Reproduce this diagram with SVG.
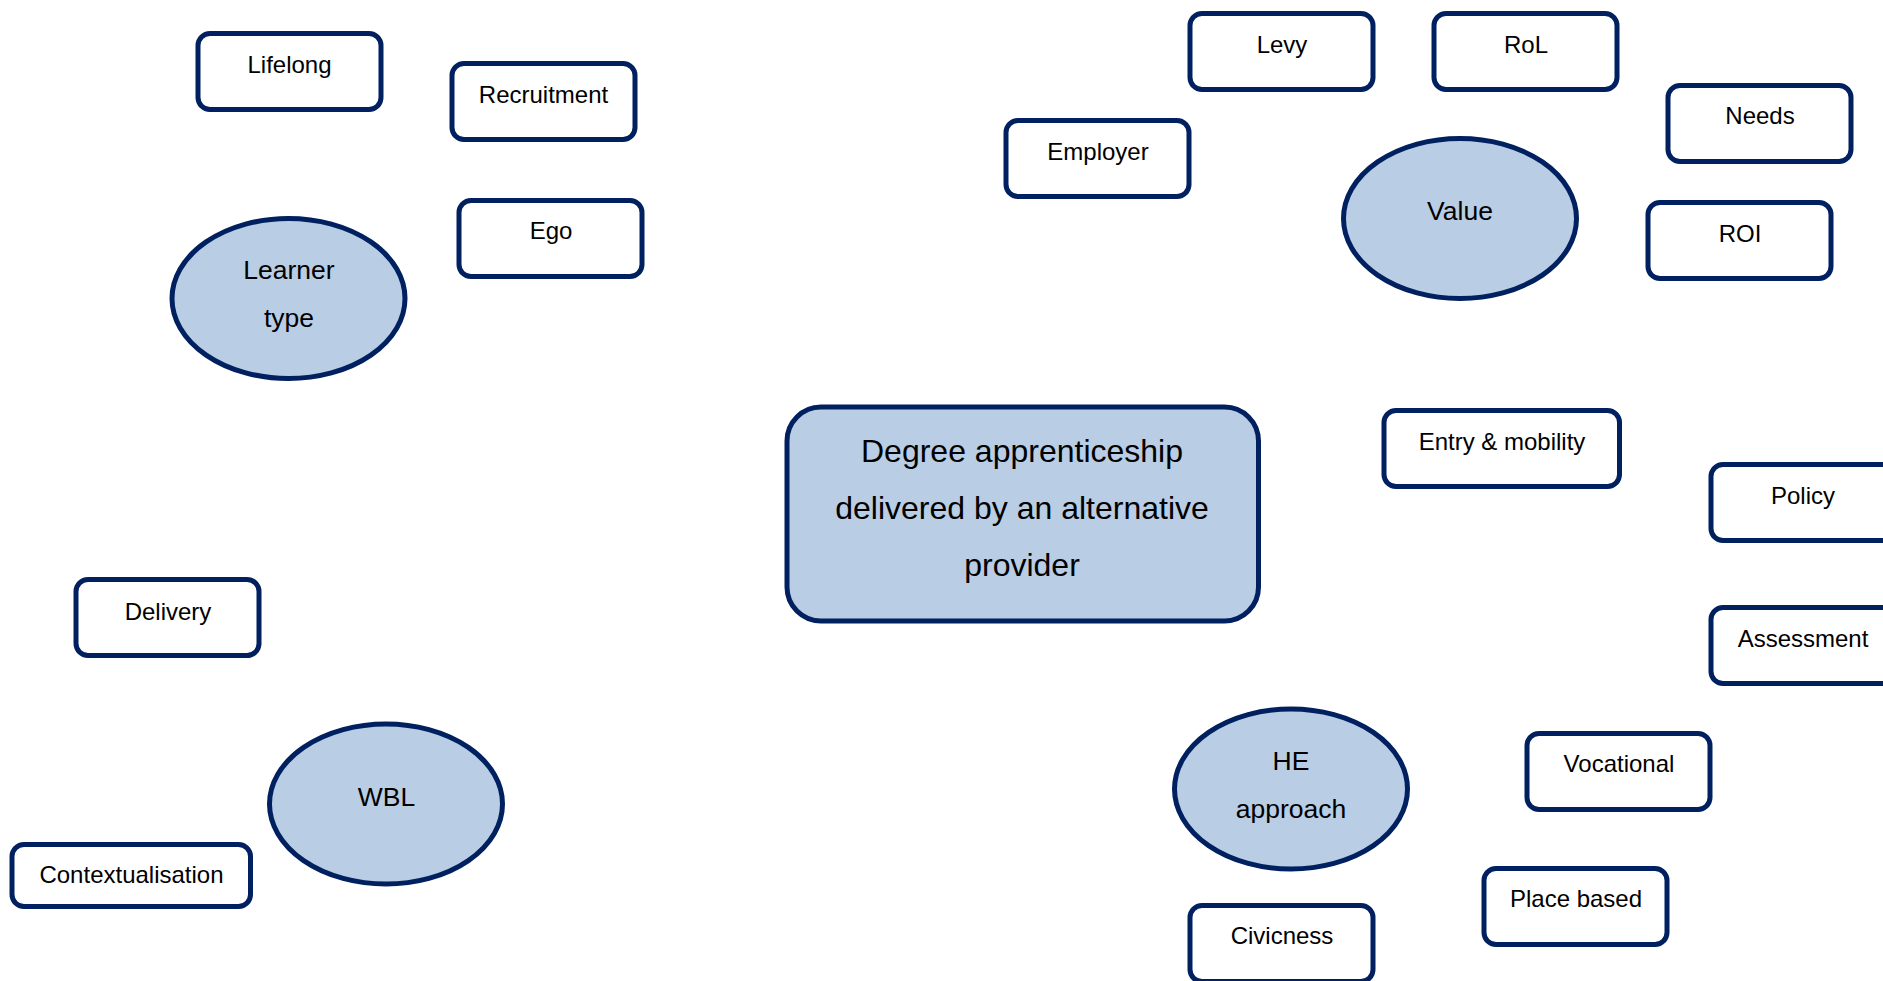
<svg xmlns="http://www.w3.org/2000/svg" width="1883" height="981" viewBox="0 0 1883 981">
  <style>
    .box { fill: #ffffff; stroke: #002060; stroke-width: 5; }
    .hub { fill: #b9cde5; stroke: #002060; stroke-width: 5; }
    .lbl { font-family: "Liberation Sans", Arial, sans-serif; font-size: 24px; fill: #000000; text-anchor: middle; }
    .hubl { font-family: "Liberation Sans", Arial, sans-serif; font-size: 26.5px; fill: #000000; text-anchor: middle; }
    .core { font-family: "Liberation Sans", Arial, sans-serif; font-size: 32px; fill: #000000; text-anchor: middle; }
  </style>
  <rect width="1883" height="981" fill="#ffffff"/>

  <!-- no links between the shapes -->
  <g id="connectors"></g>

  <!-- central topic -->
  <g id="node-core">
    <rect class="hub" x="787" y="407" width="471.5" height="214" rx="34" ry="34"/>
    <text class="core" x="1022" y="462">Degree apprenticeship</text>
    <text class="core" x="1022" y="519">delivered by an alternative</text>
    <text class="core" x="1022" y="576">provider</text>
  </g>

  <!-- theme ellipses -->
  <g id="node-learner-type">
    <ellipse class="hub" cx="288.5" cy="298.5" rx="116.5" ry="80"/>
    <text class="hubl" x="289" y="279">Learner</text>
    <text class="hubl" x="289" y="327">type</text>
  </g>
  <g id="node-value">
    <ellipse class="hub" cx="1460" cy="218.5" rx="116.5" ry="80"/>
    <text class="hubl" x="1460" y="220">Value</text>
  </g>
  <g id="node-wbl">
    <ellipse class="hub" cx="386" cy="804" rx="116.5" ry="80"/>
    <text class="hubl" x="386.5" y="806">WBL</text>
  </g>
  <g id="node-he-approach">
    <ellipse class="hub" cx="1291" cy="789" rx="116.5" ry="80"/>
    <text class="hubl" x="1291" y="770">HE</text>
    <text class="hubl" x="1291" y="818">approach</text>
  </g>

  <!-- concept boxes -->
  <g id="node-lifelong">
    <rect class="box" x="198" y="33.5" width="183" height="76" rx="12"/>
    <text class="lbl" x="289.5" y="73">Lifelong</text>
  </g>
  <g id="node-recruitment">
    <rect class="box" x="452" y="63.5" width="183" height="76" rx="12"/>
    <text class="lbl" x="543.5" y="103">Recruitment</text>
  </g>
  <g id="node-ego">
    <rect class="box" x="459" y="200.5" width="183" height="76" rx="12"/>
    <text class="lbl" x="551" y="239">Ego</text>
  </g>
  <g id="node-employer">
    <rect class="box" x="1006" y="120.5" width="183" height="76" rx="12"/>
    <text class="lbl" x="1098" y="160">Employer</text>
  </g>
  <g id="node-levy">
    <rect class="box" x="1190" y="13.5" width="183" height="76" rx="12"/>
    <text class="lbl" x="1282" y="53">Levy</text>
  </g>
  <g id="node-rol">
    <rect class="box" x="1434" y="13.5" width="183" height="76" rx="12"/>
    <text class="lbl" x="1526" y="53">RoL</text>
  </g>
  <g id="node-needs">
    <rect class="box" x="1668" y="85.5" width="183" height="76" rx="12"/>
    <text class="lbl" x="1760" y="124">Needs</text>
  </g>
  <g id="node-roi">
    <rect class="box" x="1648" y="202.5" width="183" height="76" rx="12"/>
    <text class="lbl" x="1740" y="242">ROI</text>
  </g>
  <g id="node-entry-mobility">
    <rect class="box" x="1384" y="410.5" width="235.5" height="76" rx="12"/>
    <text class="lbl" x="1502" y="450">Entry &amp; mobility</text>
  </g>
  <g id="node-policy">
    <rect class="box" x="1711" y="464.5" width="183" height="76" rx="12"/>
    <text class="lbl" x="1803" y="504">Policy</text>
  </g>
  <g id="node-assessment">
    <rect class="box" x="1711" y="607.5" width="183" height="76" rx="12"/>
    <text class="lbl" x="1803" y="647">Assessment</text>
  </g>
  <g id="node-vocational">
    <rect class="box" x="1527" y="733.5" width="183" height="76" rx="12"/>
    <text class="lbl" x="1619" y="772">Vocational</text>
  </g>
  <g id="node-place-based">
    <rect class="box" x="1484" y="868.5" width="183" height="76" rx="12"/>
    <text class="lbl" x="1576" y="907">Place based</text>
  </g>
  <g id="node-civicness">
    <rect class="box" x="1190" y="905.5" width="183" height="76" rx="12"/>
    <text class="lbl" x="1282" y="944">Civicness</text>
  </g>
  <g id="node-delivery">
    <rect class="box" x="76" y="579.5" width="183" height="76" rx="12"/>
    <text class="lbl" x="168" y="620">Delivery</text>
  </g>
  <g id="node-contextualisation">
    <rect class="box" x="12" y="844.5" width="238.5" height="62" rx="12"/>
    <text class="lbl" x="131.5" y="883">Contextualisation</text>
  </g>
</svg>
